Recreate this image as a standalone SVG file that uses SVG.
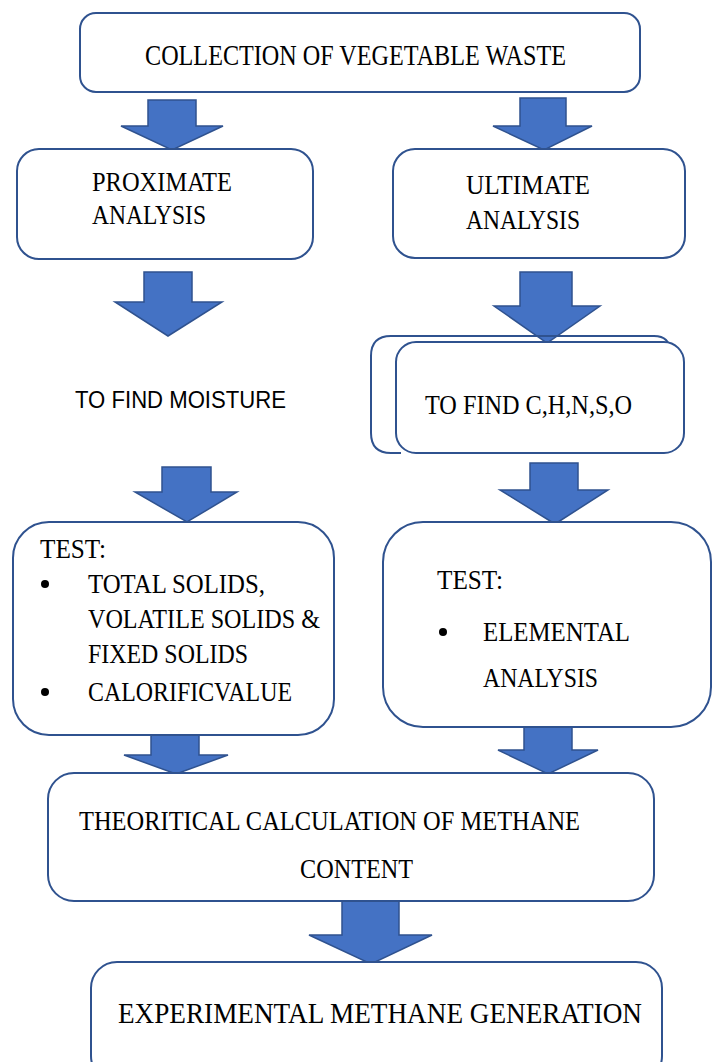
<svg xmlns="http://www.w3.org/2000/svg" width="716" height="1062" viewBox="0 0 716 1062">
<style>
.box{fill:#fff;stroke:#2F528F;stroke-width:2}
.arr{fill:#4472C4;stroke:#2F528F;stroke-width:1.5}
.t{font-family:"Liberation Serif",serif;font-size:28px;fill:#000}
.s{font-family:"Liberation Sans",sans-serif;font-size:23px;fill:#000}
.big{font-family:"Liberation Serif",serif;font-size:30px;fill:#000}
</style>
<rect width="716" height="1062" fill="#fff"/>
<g id="connectors">
<path class="arr" d="M148,100 H196 V126 H223 L172,150 L121,126 H148 Z"/>
<path class="arr" d="M520,98 H566 V126 H592 L544,150 L493,126 H520 Z"/>
<path class="arr" d="M144,272 H192 V302 H222 L168,336 L115,302 H144 Z"/>
<path class="arr" d="M520,272 H572 V306 H600 L547,343 L494,306 H520 Z"/>
<path class="arr" d="M162,467 H211 V492 H237 L187,522 L135,492 H162 Z"/>
<path class="arr" d="M530,463 H578 V490 H608 L555,524 L500,490 H530 Z"/>
<path class="arr" d="M151,735 H199 V755 H228 L176,774 L124,755 H151 Z"/>
<path class="arr" d="M524,727 H572 V750 H598 L548,774 L498,750 H524 Z"/>
<path class="arr" d="M342,901 H399 V935 H432 L371,964 L309,935 H342 Z"/>
</g>
<g id="n1">
<rect class="box" x="80" y="13" width="560" height="79" rx="16"/>
<text class="big" x="145" y="65" textLength="421" lengthAdjust="spacingAndGlyphs">COLLECTION OF VEGETABLE WASTE</text>
</g>
<g id="n2">
<rect class="box" x="17" y="149" width="296" height="110" rx="22"/>
<text class="t" x="92" y="191" textLength="140" lengthAdjust="spacingAndGlyphs">PROXIMATE</text>
<text class="t" x="92" y="224" textLength="114" lengthAdjust="spacingAndGlyphs">ANALYSIS</text>
</g>
<g id="n3">
<rect class="box" x="393" y="149" width="292" height="109" rx="22"/>
<text class="t" x="466" y="194" textLength="124" lengthAdjust="spacingAndGlyphs">ULTIMATE</text>
<text class="t" x="466" y="229" textLength="114" lengthAdjust="spacingAndGlyphs">ANALYSIS</text>
</g>
<g id="n4">
<text class="s" x="75" y="408" textLength="211" lengthAdjust="spacingAndGlyphs">TO FIND MOISTURE</text>
</g>
<g id="n5">
<path class="box" d="M401,453 H391 Q371,453 371,433 V356 Q371,336 391,336 H654 Q670,336 670,352 V376" style="fill:none"/>
<rect class="box" x="396" y="342" width="288" height="111" rx="20"/>
<text class="t" x="425" y="414" textLength="207" lengthAdjust="spacingAndGlyphs">TO FIND C,H,N,S,O</text>
</g>
<g id="n6">
<rect class="box" x="13" y="522" width="321" height="213" rx="36"/>
<text class="t" x="40" y="558" textLength="66" lengthAdjust="spacingAndGlyphs">TEST:</text>
<circle cx="45" cy="584" r="4"/>
<text class="t" x="88" y="593" textLength="177" lengthAdjust="spacingAndGlyphs">TOTAL SOLIDS,</text>
<text class="t" x="88" y="628" textLength="232" lengthAdjust="spacingAndGlyphs">VOLATILE SOLIDS &amp;</text>
<text class="t" x="88" y="663" textLength="160" lengthAdjust="spacingAndGlyphs">FIXED SOLIDS</text>
<circle cx="45" cy="692" r="4"/>
<text class="t" x="88" y="701" textLength="204" lengthAdjust="spacingAndGlyphs">CALORIFICVALUE</text>
</g>
<g id="n7">
<rect class="box" x="383" y="522" width="328" height="205" rx="40"/>
<text class="t" x="437" y="589" textLength="66" lengthAdjust="spacingAndGlyphs">TEST:</text>
<circle cx="443" cy="632" r="4"/>
<text class="t" x="483" y="641" textLength="147" lengthAdjust="spacingAndGlyphs">ELEMENTAL</text>
<text class="t" x="483" y="687" textLength="115" lengthAdjust="spacingAndGlyphs">ANALYSIS</text>
</g>
<g id="n8">
<rect class="box" x="48" y="773" width="606" height="128" rx="26"/>
<text class="t" x="79" y="830" textLength="501" lengthAdjust="spacingAndGlyphs">THEORITICAL CALCULATION OF METHANE</text>
<text class="t" x="300" y="878" textLength="113" lengthAdjust="spacingAndGlyphs">CONTENT</text>
</g>
<g id="n9">
<rect class="box" x="91" y="962" width="571" height="120" rx="26"/>
<text class="big" x="118" y="1023" textLength="524" lengthAdjust="spacingAndGlyphs">EXPERIMENTAL METHANE GENERATION</text>
</g>
</svg>
